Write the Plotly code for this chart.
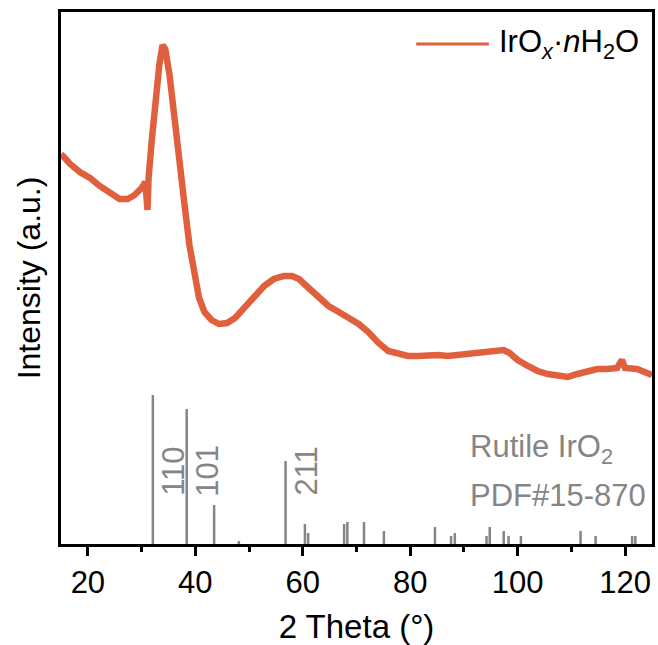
import plotly.graph_objects as go

# XRD pattern of IrOx·nH2O (2θ in degrees, intensity in a.u.)
two_theta = [15.0, 16.7, 18.5, 20.4, 22.2, 24.1, 25.9, 27.4, 28.7, 30.0, 30.7, 31.1, 31.3,
             31.9, 32.6, 33.3, 33.9, 34.4, 35.2, 36.1, 37.0, 38.0, 38.9, 39.8, 40.7, 41.7,
             43.0, 44.4, 45.9, 47.4, 49.1, 50.9, 52.8, 54.6, 56.5, 58.0, 59.3, 61.1, 63.0,
             64.8, 66.7, 68.5, 70.4, 72.2, 74.1, 75.9, 77.8, 79.6, 81.5, 83.3, 85.2, 87.0,
             88.9, 90.7, 92.6, 94.4, 96.3, 97.4, 98.5, 100.0, 101.9, 103.7, 105.6, 107.4,
             109.3, 111.1, 113.0, 114.8, 116.7, 118.5, 119.4, 120.0, 122.2, 124.1, 125.0]
intensity = [390, 380, 372, 366, 358, 351, 345, 345, 349, 356, 362, 334, 366,
             404, 444, 479, 499, 495, 469, 431, 384, 339, 299, 269, 246, 232,
             224, 220, 221, 226, 236, 248, 258, 265, 268, 268, 265, 256, 246,
             238, 232, 226, 220, 212, 201, 193, 190, 188, 188, 189, 189, 188,
             189, 190, 191, 193, 194, 194, 191, 184, 178, 173, 170, 168,
             167, 170, 173, 175, 175, 176, 184, 176, 175, 172, 169]

# Reference pattern: rutile IrO2, PDF#15-870 (as drawn)
ref_pos = [32.1, 38.4, 43.5, 48.1, 56.8, 60.4, 61.0, 67.7, 68.3, 71.4, 75.1, 84.6, 87.6,
           88.3, 94.2, 94.8, 97.4, 98.3, 100.6, 111.7, 114.5, 121.3, 121.9]
ref_int = [149, 135, 39, 3, 83, 20, 11, 20, 22, 22, 13, 17, 8,
           11, 8, 17, 13, 8, 8, 13, 8, 8, 8]
hkl_labels = ["110", "101", "211"]
hkl_pos = [32.1, 38.4, 56.8]

x_ticks = [20, 40, 60, 80, 100, 120]

FONT = "Arial, Liberation Sans, sans-serif"
ORANGE = "#E0603E"
GRAY = "#858585"

fig = go.Figure()

# sticks
sx, sy = [], []
for p, h in zip(ref_pos, ref_int):
    sx += [p, p, None]
    sy += [0, h, None]
fig.add_trace(go.Scatter(x=sx, y=sy, mode="lines", line=dict(color=GRAY, width=2.5),
                         showlegend=False, hoverinfo="skip"))

fig.add_trace(go.Scatter(x=two_theta, y=intensity, mode="lines",
                         line=dict(color=ORANGE, width=6.5), showlegend=False))

for lab, p in zip(hkl_labels, hkl_pos):
    fig.add_annotation(x=p, y=73, text=lab, textangle=-90, showarrow=False,
                       xshift=20, font=dict(family=FONT, size=31, color=GRAY))

fig.add_annotation(x=0.689, y=(544 - 449) / 532, xref="paper", yref="paper",
                   text="Rutile IrO<sub>2</sub>", showarrow=False, xanchor="left",
                   yanchor="middle", font=dict(family=FONT, size=31, color=GRAY))
fig.add_annotation(x=0.689, y=(544 - 495) / 532, xref="paper", yref="paper",
                   text="PDF#15-870", showarrow=False, xanchor="left",
                   yanchor="middle", font=dict(family=FONT, size=31, color=GRAY))

# legend
fig.add_shape(type="line", xref="paper", yref="paper",
              x0=(418 - 61) / 594, x1=(491 - 61) / 594,
              y0=(544 - 44) / 532, y1=(544 - 44) / 532,
              line=dict(color=ORANGE, width=3))
fig.add_annotation(x=(499 - 61) / 594, y=(544 - 44) / 532, xref="paper", yref="paper",
                   text="IrO<sub><i>x</i></sub>·<i>n</i>H<sub>2</sub>O", showarrow=False,
                   xanchor="left", yanchor="middle",
                   font=dict(family=FONT, size=31, color="black"))

fig.update_layout(
    width=658, height=645,
    margin=dict(l=61, r=3, t=12, b=101),
    plot_bgcolor="white", paper_bgcolor="white",
    font=dict(family=FONT, size=31, color="black"),
    showlegend=False,
)
fig.update_xaxes(range=[15, 125], tickvals=x_ticks, ticks="outside", ticklen=9,
                 tickwidth=2.5, tickcolor="black", showline=True, linecolor="black",
                 linewidth=3, mirror=True, showgrid=False, zeroline=False,
                 minor=dict(dtick=10, tick0=0, ticks="outside", ticklen=5, tickwidth=2.5,
                            tickcolor="black", showgrid=False),
                 tickfont=dict(size=31),
                 title=dict(text="2 Theta (°)", font=dict(size=33), standoff=16))
fig.update_yaxes(range=[0, 532], showticklabels=False, ticks="", showline=True,
                 linecolor="black", linewidth=3, mirror=True, showgrid=False,
                 zeroline=False,
                 title=dict(text="Intensity (a.u.)", font=dict(size=32), standoff=8))

fig.write_html("out.html")
